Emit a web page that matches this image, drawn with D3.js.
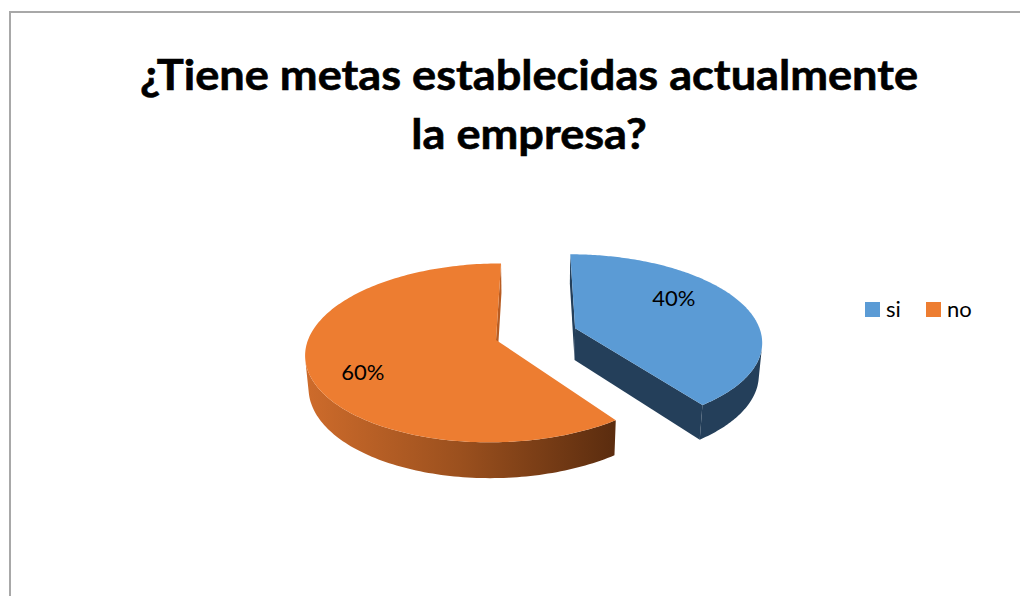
<!DOCTYPE html>
<html>
<head>
<meta charset="utf-8">
<script src="https://cdn.jsdelivr.net/npm/d3@7"></script>
<style>
  html, body { margin: 0; padding: 0; background: #ffffff; }
  svg { display: block; }
</style>
</head>
<body>
<svg id="chart" width="1020" height="596"></svg>
<script>
// Survey answers
const categories = ["si", "no"];
const values = [40, 60];
const titleLines = ["¿Tiene metas establecidas actualmente", "la empresa?"];
const exploded = [true, false];

const topColors = ["#5b9bd5", "#ed7d31"];

const svg = d3.select("#chart");
const W = 1020, H = 596;

// frame: left and top border only
svg.append("path")
  .attr("d", `M10,${H} V12 H${W}`)
  .attr("fill", "none")
  .attr("stroke", "#a8a8a8")
  .attr("stroke-width", 2);

// title
const title = svg.append("g");
const titleY = [90, 149];
titleLines.forEach((t, i) => {
  title.append("text")
    .attr("x", 529)
    .attr("y", titleY[i])
    .attr("text-anchor", "middle")
    .attr("font-family", "Lato, 'Open Sans', sans-serif")
    .attr("font-weight", "bold")
    .attr("font-size", 42)
    .attr("stroke", "#000")
    .attr("stroke-width", 0.6)
    .attr("fill", "#000")
    .text(t);
});
// fit the first line to its box width
(function () {
  const first = title.select("text").node();
  const w = first.getComputedTextLength();
  const target = 778;
  const k = target / w;
  title.selectAll("text").each(function () {
    const el = d3.select(this);
    const lw = this.getComputedTextLength();
    el.attr("textLength", lw * k).attr("lengthAdjust", "spacingAndGlyphs");
  });
})();

// 3D projection of the pie disc
const R = 188, depth = 37;
const phi = Math.asin(0.466);
const sinP = Math.sin(phi), cosP = Math.cos(phi);
const D = 1158;
const X0 = 536, Y0 = 340, xc = 40;
const explode = 84;

function project(x, y, z) {
  const v = z * sinP - y * cosP;
  const w = z * cosP + y * sinP;
  const s = D / (D - w);
  return [X0 + (x - xc) * s, Y0 + v * s];
}
const cam = [xc, D * sinP, D * cosP];

const pie = d3.pie().sort(null).value(d => d)(values);
const line = d3.line().curve(d3.curveLinearClosed);

const defs = svg.append("defs");
const grad = defs.append("linearGradient")
  .attr("id", "rimNo")
  .attr("gradientUnits", "userSpaceOnUse")
  .attr("x1", 308).attr("y1", 0).attr("x2", 612).attr("y2", 0);
grad.append("stop").attr("offset", 0).attr("stop-color", "#cd6b2b");
grad.append("stop").attr("offset", 0.5).attr("stop-color", "#9b501e");
grad.append("stop").attr("offset", 1).attr("stop-color", "#5c2d0f");

const rimFill = ["#243f5a", "url(#rimNo)"];
const faceFill = ["#243f5a", "#b85c22"];

const gPie = svg.append("g");
const order = [1, 0];
const labelPos = [];

order.forEach(i => {
  const a = pie[i];
  const mid = (a.startAngle + a.endAngle) / 2;
  const off = exploded[i] ? explode : 0;
  const ox = off * Math.sin(mid), oz = -off * Math.cos(mid);
  const pt = (t, r, y) => project(ox + r * Math.sin(t), y, oz - r * Math.cos(t));
  const g = gPie.append("g");

  // radial faces
  const faces = [
    { t: a.startAngle, n: [-Math.cos(a.startAngle), 0, -Math.sin(a.startAngle)] },
    { t: a.endAngle, n: [Math.cos(a.endAngle), 0, Math.sin(a.endAngle)] }
  ];
  faces.forEach(f => {
    const toCam = [cam[0] - ox, cam[1], cam[2] - oz];
    const dot = toCam[0] * f.n[0] + toCam[1] * f.n[1] + toCam[2] * f.n[2];
    if (dot > 0) {
      g.append("path")
        .attr("d", line([pt(0, 0, 0), pt(f.t, R, 0), pt(f.t, R, -depth), pt(0, 0, -depth)]))
        .attr("fill", faceFill[i]);
    }
  });

  // outer rim, front-facing part only
  const steps = 180;
  const vis = [];
  for (let k = 0; k <= steps; k++) {
    const t = a.startAngle + (a.endAngle - a.startAngle) * k / steps;
    const px = ox + R * Math.sin(t), pz = oz - R * Math.cos(t);
    const n = [Math.sin(t), 0, -Math.cos(t)];
    const dot = (cam[0] - px) * n[0] + (cam[2] - pz) * n[2];
    if (dot > 0) vis.push(t);
  }
  if (vis.length > 1) {
    const topArc = vis.map(t => pt(t, R, 0));
    const botArc = vis.slice().reverse().map(t => pt(t, R, -depth));
    g.append("path")
      .attr("d", line(topArc.concat(botArc)))
      .attr("fill", rimFill[i]);
  }

  // top surface
  const topPts = [pt(0, 0, 0)];
  for (let k = 0; k <= steps; k++) {
    const t = a.startAngle + (a.endAngle - a.startAngle) * k / steps;
    topPts.push(pt(t, R, 0));
  }
  g.append("path").attr("d", line(topPts)).attr("fill", topColors[i]);

  labelPos[i] = pt(mid, R * 0.62, 0);
});

// value labels
const nudge = [[-6, -15], [-18, 14]];
values.forEach((v, i) => {
  svg.append("text")
    .attr("x", labelPos[i][0] + nudge[i][0])
    .attr("y", labelPos[i][1] + nudge[i][1])
    .attr("text-anchor", "middle")
    .attr("dominant-baseline", "central")
    .attr("font-family", "Lato, 'Open Sans', sans-serif")
    .attr("font-size", 22)
    .attr("fill", "#000")
    .text(v + "%");
});

// legend
const legendX = [865, 926];
const legend = svg.append("g");
categories.forEach((c, i) => {
  legend.append("rect")
    .attr("x", legendX[i]).attr("y", 302)
    .attr("width", 15).attr("height", 15)
    .attr("fill", topColors[i]);
  legend.append("text")
    .attr("x", legendX[i] + 21).attr("y", 317)
    .attr("font-family", "Lato, 'Open Sans', sans-serif")
    .attr("font-size", 22)
    .attr("fill", "#000")
    .text(c);
});
</script>
</body>
</html>
